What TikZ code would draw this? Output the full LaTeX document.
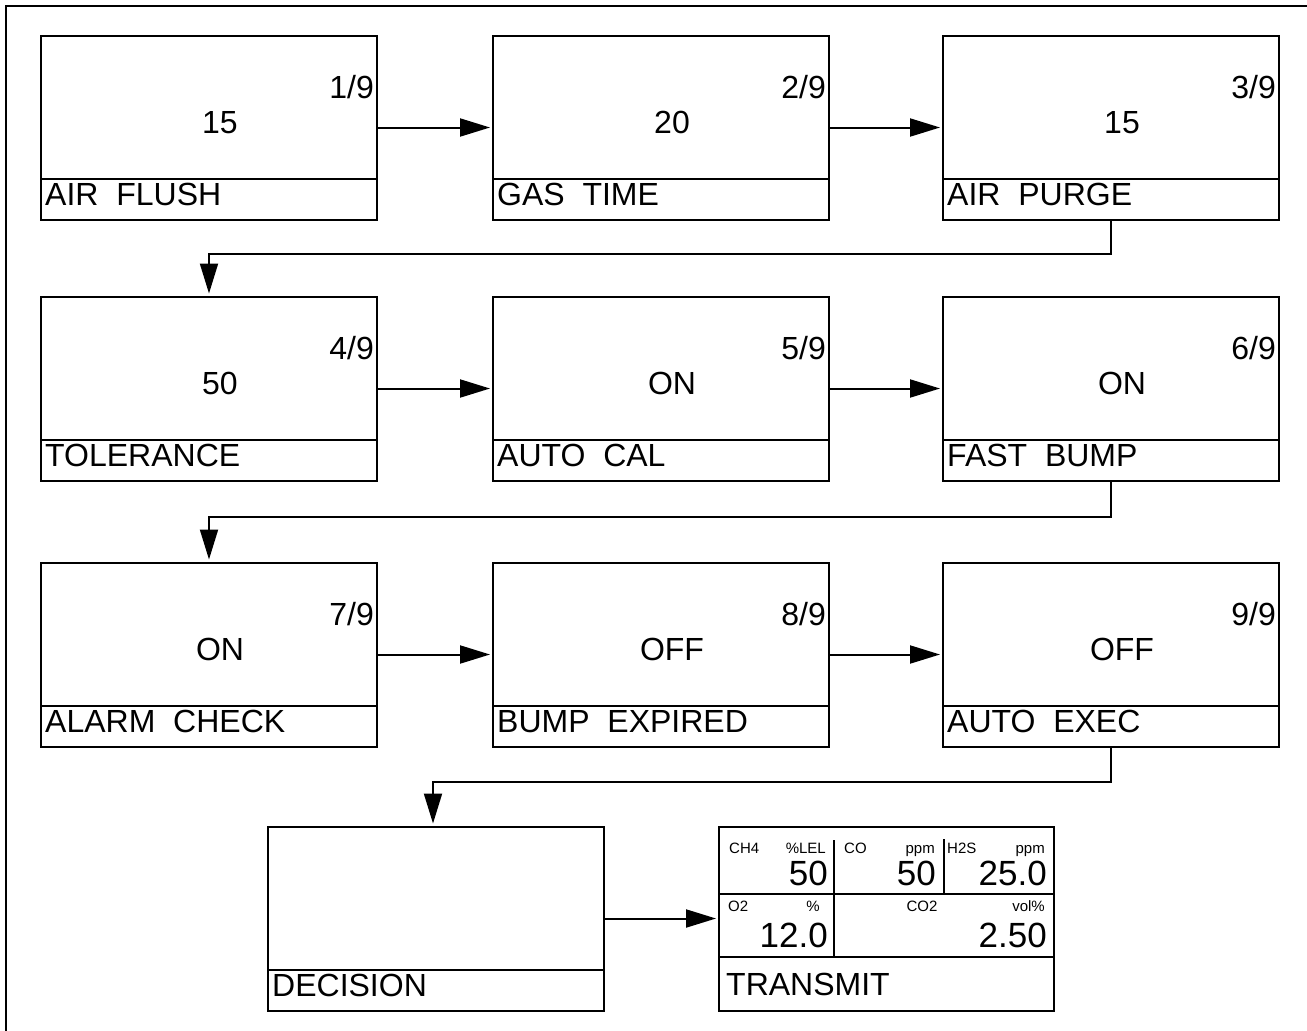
\documentclass[tikz,border=0pt]{standalone}
\usepackage{fontspec}
\setmainfont{Liberation Sans}
\usetikzlibrary{arrows.meta}
\tikzset{
  screen/.style={draw, line width=2pt, rectangle, minimum width=336pt, minimum height=184pt, anchor=north west, inner sep=0pt, outer sep=0pt},
  rule/.style={line width=2pt},
  conn/.style={line width=2pt, -{Triangle[length=30pt,width=18pt]}, shorten >=3pt},
  big/.style={font=\fontsize{32}{36}\selectfont, inner sep=0pt},
  num/.style={font=\fontsize{35}{40}\selectfont, inner sep=0pt},
  small/.style={font=\fontsize{15}{17}\selectfont, inner sep=0pt},
}
\newcommand\screenbox[6]{%
  \node[screen] (#1) at (#2,#3) {};
  \draw[rule] ([yshift=-143pt]#1.north west) -- ([yshift=-143pt]#1.north east);
  \node[big, anchor=base] (#1-val) at ([xshift=11pt,yshift=-98pt]#1.north) {#4};
  \node[big, anchor=base east] (#1-idx) at ([xshift=-3pt,yshift=-63pt]#1.north east) {#5};
  \node[big, anchor=base west] (#1-lab) at ([xshift=4pt,yshift=-170pt]#1.north west) {#6};
}
\begin{document}
\begin{tikzpicture}[x=1pt,y=-1pt]
\useasboundingbox (0,0) rectangle (1307,1031);
\draw[rule] (6,1031) -- (6,6) -- (1307,6);

\screenbox{b1}{41}{35.5}{15}{1/9}{AIR~~FLUSH}
\screenbox{b2}{493}{35.5}{20}{2/9}{GAS~~TIME}
\screenbox{b3}{943}{35.5}{15}{3/9}{AIR~~PURGE}
\screenbox{b4}{41}{296.5}{50}{4/9}{TOLERANCE}
\screenbox{b5}{493}{296.5}{ON}{5/9}{AUTO~~CAL}
\screenbox{b6}{943}{296.5}{ON}{6/9}{FAST~~BUMP}
\screenbox{b7}{41}{562.5}{ON}{7/9}{ALARM~~CHECK}
\screenbox{b8}{493}{562.5}{OFF}{8/9}{BUMP~~EXPIRED}
\screenbox{b9}{943}{562.5}{OFF}{9/9}{AUTO~~EXEC}
\screenbox{dec}{268}{826.5}{}{}{DECISION}

% transmit screen
\node[screen, minimum width=335pt] (tx) at (719,826.5) {};
\coordinate (r1) at (719,894);
\coordinate (r2) at (719,957);
\draw[rule] (r1) -- (r1 -| tx.east);
\draw[rule] (r2) -- (r2 -| tx.east);
\draw[rule] (834,840) -- (834,957);
\draw[rule] (944,839) -- (944,894);
\node[small, anchor=base west] (t-ch4) at (729,853) {CH4};
\node[small, anchor=base east] (t-lel) at (826,853) {\%LEL};
\node[num, anchor=base east] (t-v1) at (828,885) {50};
\node[small, anchor=base west] (t-co) at (844,853) {CO};
\node[small, anchor=base east] (t-ppm1) at (935,853) {ppm};
\node[num, anchor=base east] (t-v2) at (936,885) {50};
\node[small, anchor=base west] (t-h2s) at (947,853) {H2S};
\node[small, anchor=base east] (t-ppm2) at (1045,853) {ppm};
\node[num, anchor=base east] (t-v3) at (1047,885) {25.0};
\node[small, anchor=base west] (t-o2) at (728,911) {O2};
\node[small, anchor=base east] (t-pct) at (820,911) {\%};
\node[num, anchor=base east] (t-v4) at (828,947) {12.0};
\node[small, anchor=base] (t-co2) at (922,911) {CO2};
\node[small, anchor=base east] (t-vol) at (1045,911) {vol\%};
\node[num, anchor=base east] (t-v5) at (1047,947) {2.50};
\node[big, anchor=base west] (t-lab) at (726,995) {TRANSMIT};

% connectors
\draw[conn] (b1.east) -- (b2.west);
\draw[conn] (b2.east) -- (b3.west);
\draw[conn] (b4.east) -- (b5.west);
\draw[conn] (b5.east) -- (b6.west);
\draw[conn] (b7.east) -- (b8.west);
\draw[conn] (b8.east) -- (b9.west);
\draw[conn] (dec.east) -- (tx.west);
\draw[conn] (b3.south) -- ++(0,34) -| (b4.north);
\draw[conn] (b6.south) -- ++(0,36) -| (b7.north);
\draw[conn] (b9.south) -- ++(0,35) -| ([xshift=-3pt]dec.north);
\end{tikzpicture}
\end{document}
